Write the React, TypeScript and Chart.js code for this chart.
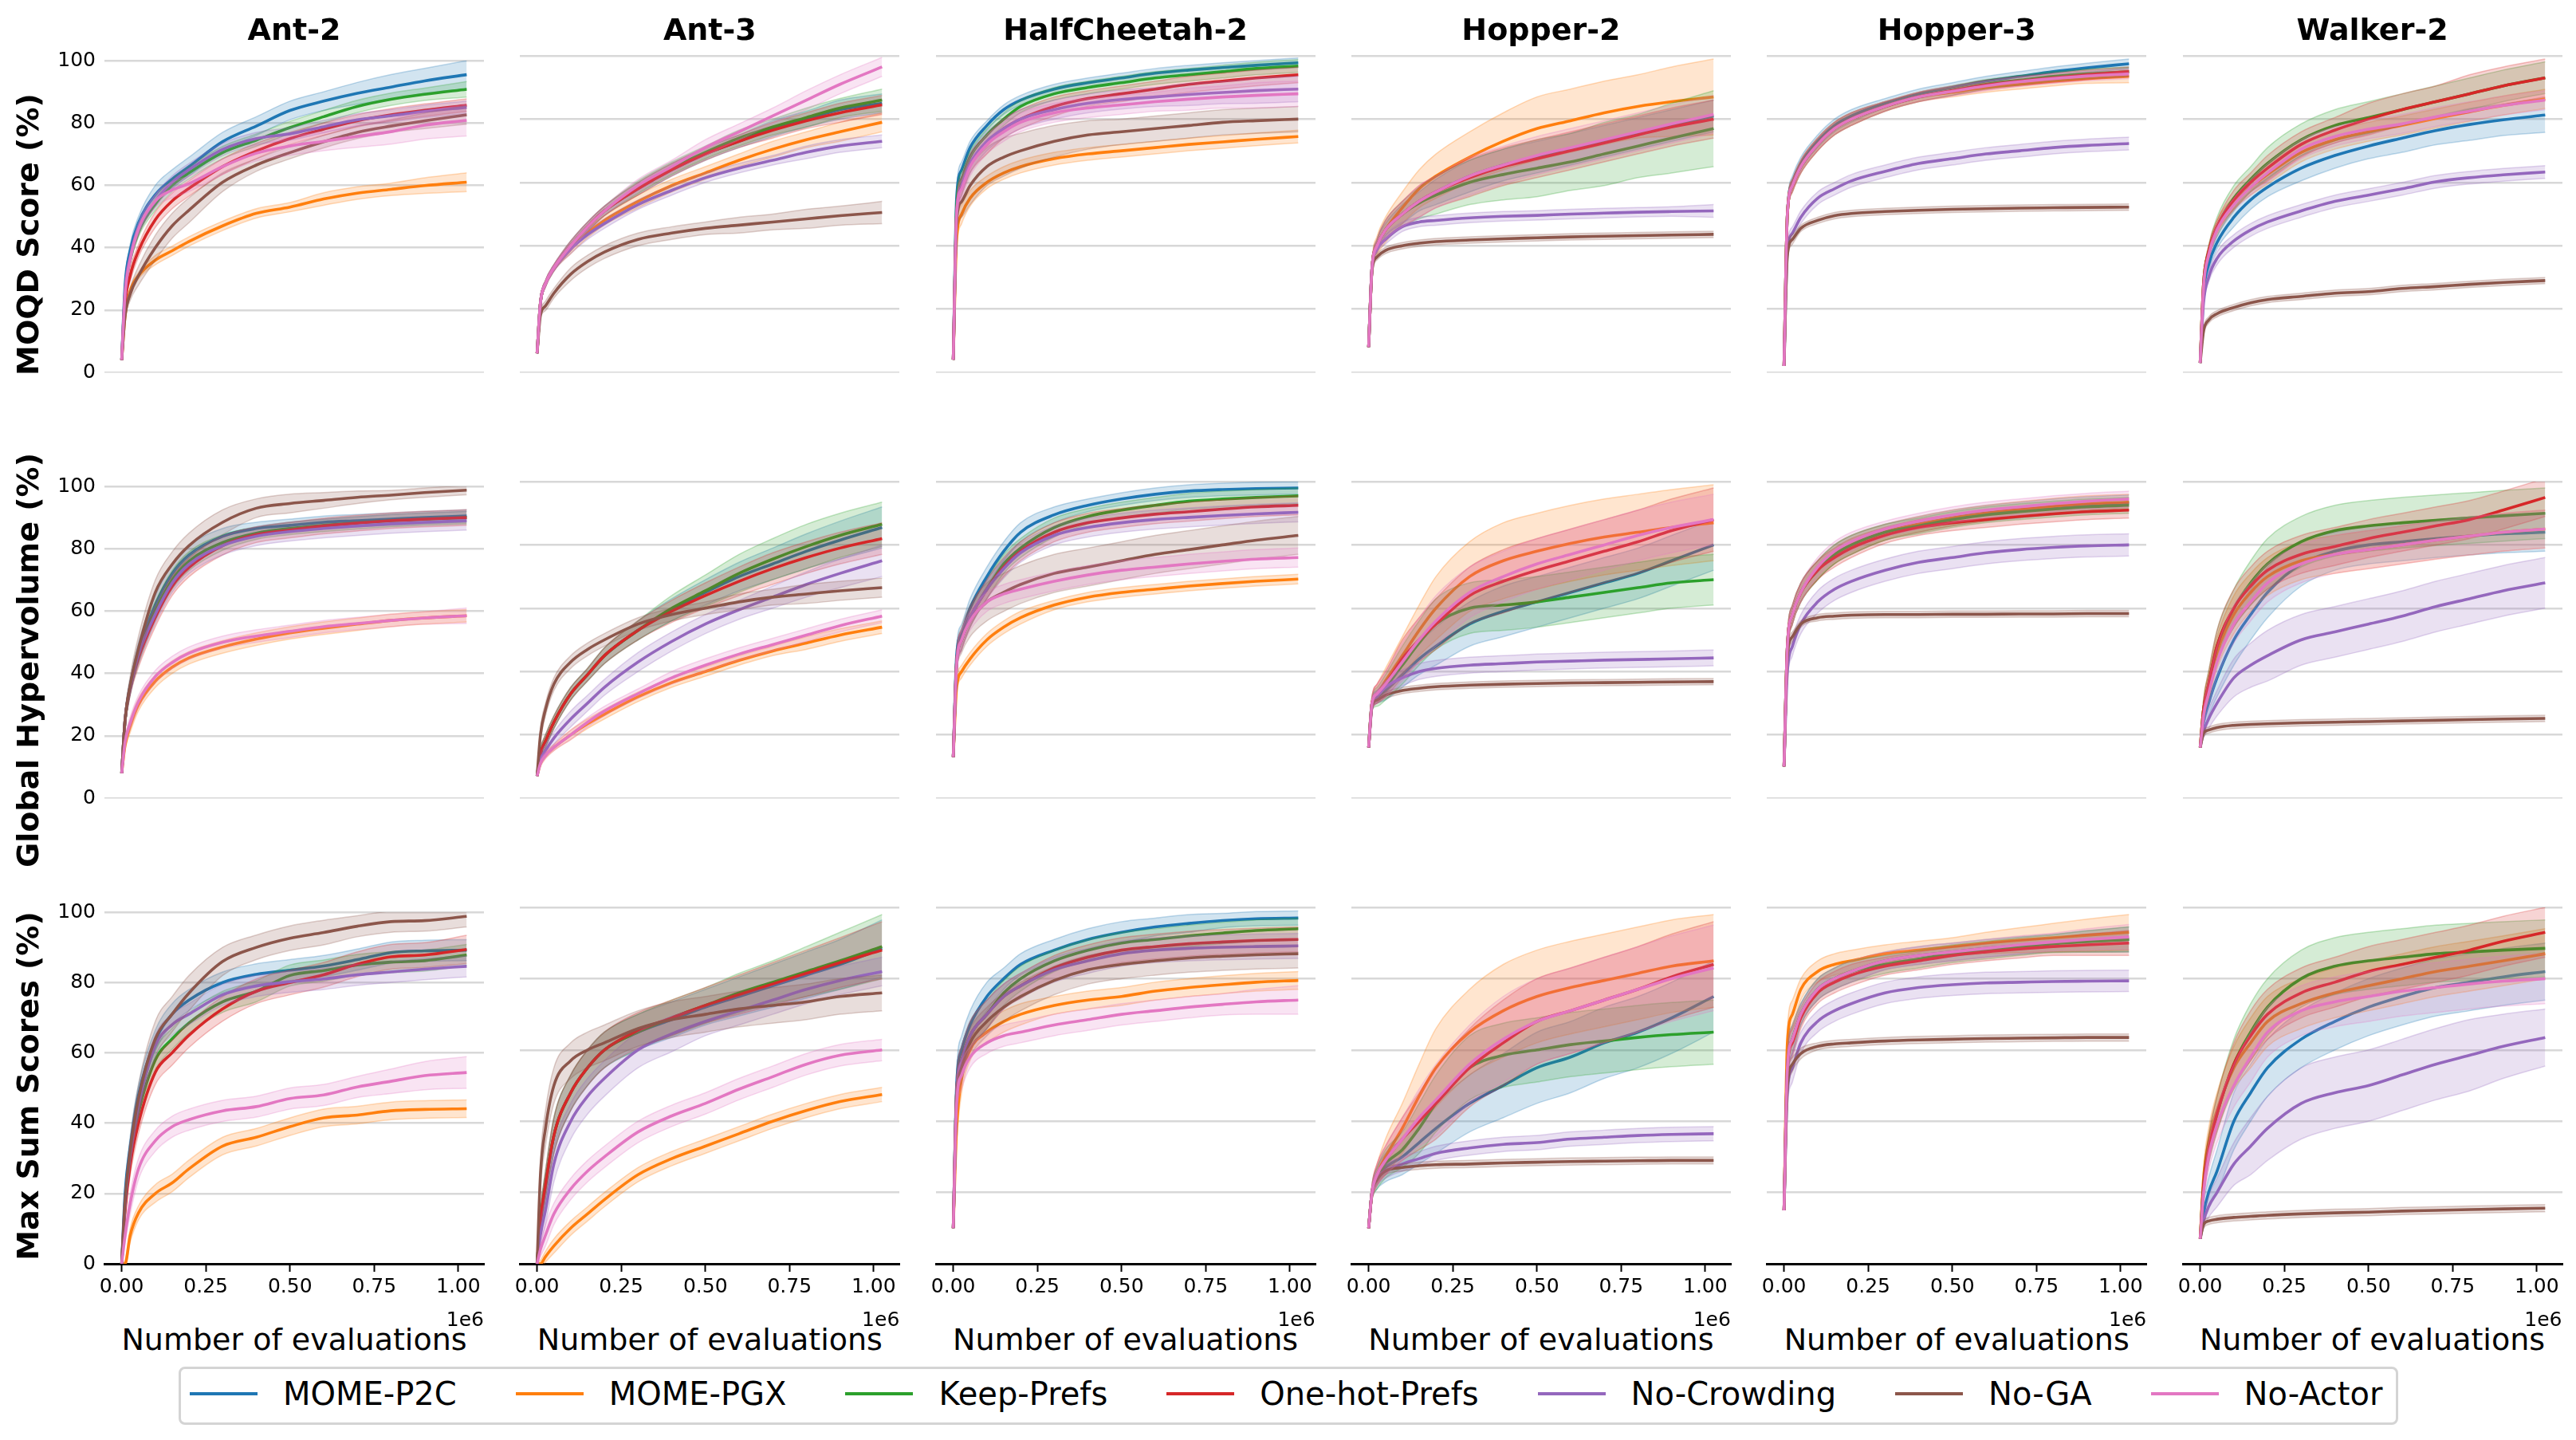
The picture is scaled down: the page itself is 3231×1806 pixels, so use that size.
import React, { useEffect, useRef } from "react";
import { Chart, registerables } from "chart.js";
Chart.register(...registerables);

// ---------- labels ----------
const SERIES = ["MOME-P2C", "MOME-PGX", "Keep-Prefs", "One-hot-Prefs", "No-Crowding", "No-GA", "No-Actor"];
const COLORS = ["#1f77b4", "#ff7f0e", "#2ca02c", "#d62728", "#9467bd", "#8c564b", "#e377c2"];
const TASKS = ["Ant-2", "Ant-3", "HalfCheetah-2", "Hopper-2", "Hopper-3", "Walker-2"];
const METRICS = ["MOQD Score (%)", "Global Hypervolume (%)", "Max Sum Scores (%)"];
const EVALS = [0, 10000, 25000, 50000, 100000, 150000, 200000, 300000, 400000, 500000, 600000, 700000, 800000, 900000, 1025000];
const X_TICKS = [0, 250000, 500000, 750000, 1000000];
const Y_TICKS = [0, 20, 40, 60, 80, 100];

// ---------- MOQD Score ----------
const moqdAnt2 = [
  [4, 28, 39, 48, 57, 62, 66, 74, 79, 84, 87, 89.5, 91.5, 93.5, 95.5],
  [4, 18, 26, 31, 36, 39, 42, 47, 51, 53, 55.6, 57.5, 58.7, 59.9, 61],
  [4, 25, 36, 45, 54, 60, 64, 70.5, 74.5, 78.5, 82, 85.3, 87.6, 89.2, 90.8],
  [4, 22, 31, 39, 49, 55, 59, 66, 71, 75, 78, 80.7, 82.6, 84.1, 85.7],
  [4, 26, 37, 46, 55, 61, 65, 71.5, 75, 76.5, 78.8, 81, 82.3, 83.7, 85],
  [4, 18, 25, 31, 40, 47, 52, 61, 66.5, 70.5, 74, 77, 79, 80.7, 82.6],
  [4, 25, 36, 46, 55, 58.5, 60.5, 66, 70.3, 72.6, 74.1, 75.7, 77.2, 79.3, 80.8],
];
const moqdAnt2Band = [
  [0, 1, 2, 2, 3, 3, 3, 3, 3, 3, 3, 3.5, 4, 4, 4.5],
  [0, 1, 1, 1, 1.5, 1.5, 1.5, 1.5, 1.5, 1.5, 2, 2, 2, 2.5, 3],
  [0, 1, 1.5, 1.5, 2, 2, 2, 2, 2, 2, 2, 2, 2, 2, 2.5],
  [0, 1, 2, 2, 2.5, 2.5, 2.5, 2.5, 2.5, 2, 2, 2, 2, 2, 2],
  [0, 1, 1.5, 1.5, 2, 2, 2, 2, 2, 2, 2, 2, 2, 2, 2],
  [0, 1, 2, 3, 4, 4, 4, 3, 2, 2, 2, 2, 2, 2.5, 3],
  [0, 1, 1.5, 2, 2, 2.5, 2.5, 2.5, 2.5, 3, 3, 3.5, 4, 4.5, 5],
];
const moqdAnt3 = [
  [6, 22, 28, 33, 40, 46, 51, 58, 64, 69, 73, 77, 80, 83, 85],
  [6, 22, 28, 33, 39, 44, 48, 54, 59, 63, 67, 70.5, 73.5, 76, 79],
  [6, 22, 28, 33, 40, 46, 51, 58.5, 64.5, 69.5, 74, 77.5, 80.5, 83.5, 86],
  [6, 22, 28, 33, 40, 46, 51, 58, 64, 69, 73, 76.5, 79.5, 82, 84.5],
  [6, 22, 28, 33, 39, 43.5, 47, 53, 57.5, 61.5, 64.5, 67, 69.5, 71.5, 73],
  [6, 18, 21, 25, 31, 35, 38, 42, 44, 45.5, 46.5, 47.5, 48.5, 49.5, 50.5],
  [6, 22, 28, 33, 40, 46, 51, 59, 65, 71, 76, 81, 86, 91, 96.5],
];
const moqdAnt3Band = [
  [0, 1, 1, 1, 1.5, 1.5, 1.5, 2, 2, 2, 2, 2.5, 2.5, 3, 3],
  [0, 1, 1, 1, 1.5, 1.5, 1.5, 2, 2, 2, 2, 2.5, 2.5, 3, 3],
  [0, 1, 1, 1, 1.5, 1.5, 1.5, 2, 2, 2, 2.5, 2.5, 3, 3, 3.5],
  [0, 1, 1, 1, 1.5, 1.5, 1.5, 2, 2, 2, 2, 2.5, 2.5, 3, 3],
  [0, 1, 1, 1, 1.5, 1.5, 1.5, 1.5, 1.5, 1.5, 1.5, 1.5, 2, 2, 2],
  [0, 1, 1.5, 1.5, 2, 2, 2, 2, 2, 2, 2.5, 2.5, 3, 3, 3.5],
  [0, 1, 1, 1, 1.5, 1.5, 1.5, 2, 2, 2.5, 2.5, 2.5, 3, 3, 3],
];
const moqdCheetah = [
  [4, 55, 64, 71, 78, 83, 86, 89.5, 91.5, 93, 94.5, 95.5, 96.3, 97, 97.8],
  [4, 42, 50, 55, 60, 63, 65, 67.5, 69, 70, 71, 72, 72.8, 73.6, 74.5],
  [4, 52, 61, 68, 75, 80, 84, 88, 90, 91.5, 93, 94, 95, 96, 96.8],
  [4, 50, 59, 66, 72, 77, 80, 84, 86.5, 88, 89.5, 91, 92, 93, 94],
  [4, 50, 59, 66, 73, 77, 80, 83, 85, 86.2, 87, 87.8, 88.4, 89, 89.5],
  [4, 48, 54, 59, 65, 68, 70, 73, 75, 76, 77, 78, 79, 79.5, 80],
  [4, 50, 58, 65, 72, 76, 79, 82, 83.5, 84.5, 85.5, 86.3, 87, 87.5, 88],
];
const moqdCheetahBand = [
  [0, 3, 2.5, 2, 1.5, 1.5, 1.5, 1.5, 1.5, 1.5, 1.5, 1.5, 1.5, 1.5, 1.5],
  [0, 3, 3, 2.5, 2, 2, 2, 2, 2, 2, 2, 2, 2, 2, 2],
  [0, 3, 2.5, 2, 2, 2, 2, 2, 2, 2, 2, 2, 2, 2, 2],
  [0, 3, 3, 3, 3, 3, 3, 3, 2.5, 2.5, 2.5, 2.5, 2.5, 2.5, 2.5],
  [0, 3, 3, 3, 3, 3, 3, 3, 3, 3, 3, 3.5, 3.5, 4, 4],
  [0, 4, 5, 6, 6, 6, 5.5, 5, 4.5, 4, 4, 4, 4, 4, 4],
  [0, 3, 3, 3, 3, 3, 3, 3, 3, 3, 3, 3.5, 3.5, 4, 4],
];
const moqdHopper2 = [
  [8, 33, 40, 45, 50, 54, 57, 62, 65.5, 68, 70.5, 73, 75.5, 78, 81],
  [8, 33, 40, 45, 52, 58, 62, 68, 73, 77, 79.5, 82, 84, 85.5, 87],
  [8, 33, 40, 45, 50, 53.5, 56, 60, 62.5, 64.5, 66.5, 69, 71.5, 74, 77],
  [8, 33, 40, 45, 50, 54, 57, 61.5, 65, 67.5, 70, 72.5, 75, 77.5, 80],
  [8, 33, 39, 42, 46, 47.5, 48, 48.8, 49.3, 49.6, 50, 50.3, 50.6, 50.8, 51],
  [8, 32, 36.5, 38.5, 40, 40.8, 41.3, 41.8, 42.2, 42.5, 42.8, 43, 43.2, 43.4, 43.6],
  [8, 33, 40, 45, 50, 54, 57, 62, 65.5, 68.5, 71, 73.5, 76, 78.5, 81.5],
];
const moqdHopper2Band = [
  [0, 1, 2, 2, 3, 3, 4, 5, 5, 5, 5, 5, 5, 5, 5],
  [0, 2, 3, 4, 5, 6, 7, 8, 9, 10, 10, 10, 10, 11, 12],
  [0, 1, 2, 3, 4, 5, 6, 7, 8, 9, 9, 10, 10, 11, 12],
  [0, 1, 2, 3, 4, 5, 5, 6, 6, 6, 6, 6, 6, 6, 6],
  [0, 1, 1, 1.5, 1.5, 1.5, 1.5, 1.5, 1.5, 1.5, 1.5, 1.5, 1.5, 1.5, 2],
  [0, 1, 1, 1, 1, 1, 1, 1, 1, 1, 1, 1, 1, 1, 1],
  [0, 1, 2, 3, 4, 5, 5, 6, 6, 6, 6, 6, 6, 6, 6],
];
const moqdHopper3 = [
  [2, 50, 60, 66, 73, 78, 81, 85, 88, 90, 92, 93.5, 95, 96.2, 97.5],
  [2, 50, 59, 65, 72, 77, 80, 84, 87, 88.5, 90, 91, 92, 92.8, 93.5],
  [2, 50, 59, 65, 72, 77, 80, 84, 87, 89, 91, 92.3, 93.5, 94.3, 95],
  [2, 50, 59, 65, 72, 77, 80, 84, 87, 89, 90.8, 92, 93, 94, 95],
  [2, 38, 44, 49, 55, 58, 60.5, 63.5, 66, 67.5, 69, 70, 71, 71.7, 72.3],
  [2, 37, 42, 45.5, 48, 49.5, 50.2, 50.8, 51.2, 51.5, 51.7, 51.9, 52, 52.1, 52.2],
  [2, 50, 59, 65, 72, 77, 80, 84, 87, 88.8, 90.5, 91.8, 92.8, 93.6, 94.3],
];
const moqdHopper3Band = [
  [0, 2, 2, 2, 2, 2, 2, 1.5, 1.5, 1.5, 1.5, 1.5, 1.5, 1.5, 1.5],
  [0, 2, 2, 2, 2, 2, 2, 1.5, 1.5, 1.5, 1.5, 1.5, 1.5, 1.5, 2],
  [0, 2, 2, 2, 2, 2, 2, 1.5, 1.5, 1.5, 1.5, 1.5, 1.5, 1.5, 1.5],
  [0, 2, 2, 2, 2, 2, 2, 1.5, 1.5, 1.5, 1.5, 1.5, 1.5, 1.5, 1.5],
  [0, 2, 2, 2, 2, 2, 2, 2, 2, 2, 2, 2, 2, 2, 2],
  [0, 2, 1.5, 1, 1, 1, 1, 1, 1, 1, 1, 1, 1, 1, 1],
  [0, 2, 2, 2, 2, 2, 2, 1.5, 1.5, 1.5, 1.5, 1.5, 1.5, 1.5, 1.5],
];
const moqdWalker = [
  [3, 25, 34, 41, 49, 54.5, 58.5, 64.5, 68.5, 71.5, 74, 76.4, 78.3, 79.8, 81.3],
  [3, 28, 38, 46, 53.5, 58.5, 62.5, 69.5, 73.5, 76, 78, 80.2, 82.3, 84.3, 86.4],
  [3, 28, 38, 46, 55, 61, 66, 73.5, 78, 80.5, 83, 85.5, 88, 90.5, 93.1],
  [3, 28, 38, 46, 54.5, 60, 64.5, 72, 76.5, 80, 83, 85.5, 88, 90.5, 93],
  [3, 22, 30, 36, 41.5, 45, 47.5, 51, 54, 56, 58, 60.2, 61.5, 62.4, 63.3],
  [3, 13, 16.5, 18.5, 20.5, 22, 23, 24, 25, 25.5, 26.5, 27.1, 27.8, 28.4, 29],
  [3, 27, 37, 45, 53, 58.5, 63, 70.5, 74.5, 76.8, 78.5, 80.7, 82.5, 84.3, 86],
];
const moqdWalkerBand = [
  [0, 1, 2, 2, 3, 3, 3, 4, 4, 4, 4.5, 4.5, 5, 5, 5.5],
  [0, 1, 1.5, 2, 2, 2.5, 3, 3, 3, 3, 3, 3, 3, 3, 3],
  [0, 1, 2, 3, 4, 4, 5, 5, 5, 5, 5, 5, 5, 5, 5],
  [0, 1, 2, 2, 3, 3, 4, 4, 4, 5, 5, 5, 6, 6, 6],
  [0, 1, 1.5, 2, 2, 2, 2, 2, 2, 2, 2, 2, 2, 2, 2],
  [0, 1, 1, 1, 1, 1, 1, 1, 1, 1, 1, 1, 1, 1, 1],
  [0, 1, 1.5, 2, 2, 2.5, 3, 3, 3, 3, 3, 3, 3, 3, 3],
];

// ---------- Global Hypervolume ----------
const ghAnt2 = [
  [8, 25, 36, 47, 62, 72, 78, 84, 86.5, 87.5, 88.5, 89, 89.5, 90, 90.5],
  [8, 17, 23, 30, 37.5, 42, 45, 48.5, 51, 53, 54.5, 55.8, 57, 57.8, 58.5],
  [8, 25, 35, 46, 60, 70, 76, 82, 85, 86.5, 87.5, 88.3, 89, 89.5, 90],
  [8, 25, 35, 45, 58, 68, 74, 81, 84.5, 86, 87.3, 88.2, 89, 89.5, 90],
  [8, 25, 35, 46, 59, 69, 75, 81, 84, 85.5, 86.5, 87.3, 88, 88.5, 89],
  [8, 25, 36, 48, 66, 75, 81, 88.5, 93, 94.5, 95.5, 96.5, 97.2, 98, 98.8],
  [8, 18, 24, 31, 39, 43.5, 46.5, 50, 52, 53.5, 55, 56, 57, 57.8, 58.5],
];
const ghAnt2Band = [
  [0, 2, 2, 3, 3, 3, 3, 2.5, 2, 2, 2, 2, 2, 2, 2],
  [0, 1.5, 2, 2, 2, 2, 2, 2, 2, 2, 2, 2, 2, 2, 2],
  [0, 2, 2, 3, 3, 3, 3, 2.5, 2, 2, 2, 2, 2, 2, 2],
  [0, 2, 2, 3, 3, 3, 3, 3, 2.5, 2.5, 2.5, 2.5, 2.5, 2.5, 2.5],
  [0, 2, 2, 3, 3, 3, 3, 3, 3, 3, 3, 3, 3, 3, 3],
  [0, 2, 3, 4, 4, 4, 4, 4, 3, 3, 2.5, 2, 1.5, 1.5, 1.5],
  [0, 1.5, 2, 2, 2, 2, 2, 2, 2, 2, 2, 2, 2, 2, 2.5],
];
const ghAnt3 = [
  [7, 14, 18, 24, 33, 39, 45, 53, 59.5, 65, 70, 74, 78, 81.5, 85.5],
  [7, 11, 13.5, 16, 20, 23.5, 26.5, 32, 36.5, 40, 43.5, 46.5, 49, 51.5, 54],
  [7, 14, 18, 24, 33, 39, 45, 53, 60, 65.5, 71, 75.5, 79.5, 83, 86.5],
  [7, 14, 18, 24, 33, 39, 45, 53, 59, 64, 68.5, 72.5, 76, 79, 82],
  [7, 12, 15, 19, 25, 30, 35, 43, 49.5, 55, 59.5, 63.5, 67.5, 71, 75],
  [7, 20, 28, 36, 43, 47, 50, 55, 58, 60, 62, 63.5, 64.5, 65.5, 66.5],
  [7, 11, 13.5, 16, 20, 24, 27.5, 33, 38, 42, 45.5, 48.5, 51.5, 54.5, 57.5],
];
const ghAnt3Band = [
  [0, 1.5, 2, 2, 2, 2, 2.5, 3, 3.5, 4, 4.5, 5, 5.5, 6, 6.5],
  [0, 1, 1, 1, 1.5, 1.5, 1.5, 1.5, 1.5, 1.5, 1.5, 1.5, 2, 2, 2],
  [0, 1.5, 2, 2, 2, 2, 2.5, 3, 4, 5, 6, 6.5, 7, 7, 7],
  [0, 1.5, 2, 2, 2, 2, 2.5, 3, 3.5, 4, 4.5, 5, 5, 5, 5],
  [0, 1.5, 2, 2, 2.5, 2.5, 2.5, 3, 3, 3, 3, 3.5, 4, 4.5, 5],
  [0, 2, 2, 2, 2, 2, 2, 2, 2, 2, 2.5, 2.5, 3, 3, 3],
  [0, 1, 1, 1, 1.5, 1.5, 1.5, 1.5, 2, 2, 2, 2, 2, 2, 2],
];
const ghCheetah = [
  [13, 45, 52, 60, 70, 78, 84, 89.5, 92.5, 94.5, 96, 97, 97.5, 97.8, 98],
  [13, 35, 40, 44, 50, 54, 57, 61, 63.5, 65, 66, 67, 67.8, 68.5, 69.2],
  [13, 43, 50, 57, 66, 74, 79, 85.5, 89, 91, 92.5, 93.8, 94.5, 95, 95.5],
  [13, 43, 50, 57, 66, 73, 78, 84, 87, 88.5, 89.7, 90.5, 91.3, 92, 92.5],
  [13, 43, 50, 57, 66, 72.5, 77.5, 83, 85.5, 87, 88, 88.7, 89.3, 89.8, 90.3],
  [13, 42, 50, 56, 62, 65, 67.5, 71, 73, 75, 77, 78.5, 80, 81.5, 83],
  [13, 42, 50, 56, 62, 64.5, 66, 68.5, 70.5, 72, 73, 74, 74.8, 75.5, 76],
];
const ghCheetahBand = [
  [0, 3, 3, 3, 3, 3, 3, 2.5, 2, 2, 2, 2, 2, 2, 2],
  [0, 2, 2, 2, 2, 2, 2, 1.5, 1.5, 1.5, 1.5, 1.5, 1.5, 1.5, 1.5],
  [0, 3, 3, 3, 3, 3, 3, 3, 2.5, 2.5, 2.5, 2.5, 2.5, 2.5, 2.5],
  [0, 3, 3, 3, 3, 3, 3, 3, 3, 3, 3, 3, 3, 3, 3],
  [0, 3, 3, 3, 3, 3, 3, 3, 3, 3, 3, 3, 3, 3, 3],
  [0, 3, 4, 5, 6, 6, 6, 6, 6, 6, 6, 6, 6, 6, 6],
  [0, 3, 3, 3, 3, 3, 3, 3, 3, 3, 3, 3, 3, 3, 3],
];
const ghHopper2 = [
  [16, 30, 32, 34, 39, 44, 48, 55, 59, 62, 65, 68, 71, 75, 80],
  [16, 30, 33, 37, 45, 53, 60, 70, 75, 78, 80.5, 82.5, 84, 85.5, 87],
  [16, 30, 32, 35, 42, 49, 55, 60, 61, 62, 63.5, 65, 66.5, 68, 69],
  [16, 30, 33, 36, 44, 50, 55, 64, 68.5, 72, 75, 78, 81, 84.5, 88],
  [16, 29, 32, 35, 38, 40, 41, 42, 42.5, 43, 43.3, 43.6, 43.8, 44, 44.3],
  [16, 29, 31, 32.5, 34, 34.7, 35.2, 35.7, 36, 36.2, 36.4, 36.5, 36.6, 36.7, 36.8],
  [16, 30, 33, 36, 43, 50, 56, 65, 70, 74, 77, 80, 83, 85.5, 88],
];
const ghHopper2Band = [
  [0, 2, 2, 3, 4, 5, 6, 7, 8, 8, 8, 8, 8, 8, 8],
  [0, 2, 3, 4, 6, 8, 10, 11, 12, 12, 12, 12, 12, 12, 12],
  [0, 2, 3, 4, 6, 7, 8, 8, 8, 8, 8, 8, 8, 8, 8],
  [0, 2, 3, 4, 6, 7, 8, 9, 10, 10, 10, 10, 10, 10, 10],
  [0, 1.5, 2, 2, 2.5, 2.5, 2.5, 2.5, 2.5, 2.5, 2.5, 2.5, 2.5, 2.5, 2.5],
  [0, 1, 1, 1, 1, 1, 1, 1, 1, 1, 1, 1, 1, 1, 1],
  [0, 2, 3, 4, 6, 7, 8, 8, 8, 8, 8, 8, 8, 8, 8],
];
const ghHopper3 = [
  [10, 48, 58, 65, 72, 77, 80, 84, 86.5, 88.5, 90, 91, 92, 92.7, 93.3],
  [10, 48, 58, 65, 72, 77, 80, 84, 86.5, 88.5, 90, 91.2, 92.2, 93, 93.5],
  [10, 48, 58, 65, 72, 77, 80, 84, 86, 88, 89.5, 90.5, 91.3, 92, 92.5],
  [10, 48, 58, 65, 72, 76, 79, 83, 85.5, 87, 88, 89, 89.8, 90.5, 91],
  [10, 40, 48, 55, 62, 66, 68.5, 72, 74.5, 76, 77.5, 78.5, 79.2, 79.7, 80],
  [10, 45, 51, 55, 57, 57.5, 57.8, 58, 58, 58.1, 58.1, 58.2, 58.2, 58.3, 58.3],
  [10, 48, 58, 65, 73, 78, 81, 85, 87.5, 89.5, 91, 92, 93, 93.8, 94.5],
];
const ghHopper3Band = [
  [0, 3, 3, 3, 3, 3, 3, 2.5, 2.5, 2.5, 2.5, 2.5, 2.5, 2.5, 2.5],
  [0, 3, 3, 3, 3, 3, 3, 2.5, 2.5, 2.5, 2.5, 2.5, 2.5, 2.5, 2.5],
  [0, 3, 3, 3, 3, 3, 3, 2.5, 2.5, 2.5, 2.5, 2.5, 2.5, 2.5, 2.5],
  [0, 3, 3, 3, 3, 3, 3, 2.5, 2.5, 2.5, 2.5, 2.5, 2.5, 2.5, 2.5],
  [0, 3, 3, 3, 3.5, 3.5, 3.5, 3.5, 3.5, 3.5, 3.5, 3.5, 3.5, 3.5, 3.5],
  [0, 2, 1.5, 1, 1, 1, 1, 1, 1, 1, 1, 1, 1, 1, 1],
  [0, 3, 3, 3, 3, 3, 3, 2.5, 2.5, 2.5, 2.5, 2.5, 2.5, 2.5, 2.5],
];
const ghWalker = [
  [16, 24, 30, 38, 50, 58, 65, 74, 78, 80, 81, 82, 82.8, 83.5, 84],
  [16, 28, 35, 46, 58, 65, 70, 75, 77, 78.5, 80, 81.5, 82.8, 84, 85],
  [16, 28, 36, 48, 60, 68, 74, 81, 84.5, 86, 87, 87.8, 88.5, 89.2, 90],
  [16, 28, 36, 48, 60, 67, 72, 77, 79.5, 82, 84, 86, 88, 91, 95],
  [16, 21, 25, 30, 38, 42, 45, 50, 52.5, 55, 57.5, 60.5, 63, 65.5, 68],
  [16, 20.5, 21.5, 22.3, 23, 23.3, 23.5, 23.8, 24, 24.2, 24.4, 24.6, 24.8, 25, 25.2],
  [16, 26, 33, 43, 55, 62, 68, 74, 77, 78.5, 80, 81.5, 82.8, 84, 85],
];
const ghWalkerBand = [
  [0, 3, 4, 6, 8, 8, 8, 7, 6, 6, 6, 6, 6, 6, 6],
  [0, 3, 4, 5, 6, 6, 6, 6, 6, 6, 6, 6, 6, 6, 6],
  [0, 3, 4, 5, 6, 7, 8, 8, 8, 8, 8, 8, 8, 8, 8],
  [0, 3, 4, 5, 6, 6, 6, 6, 6, 6, 6, 6, 6, 6, 6],
  [0, 2, 3, 4, 6, 7, 8, 8, 8, 8, 8, 8, 8, 8, 8],
  [0, 1, 1, 1, 1, 1, 1, 1, 1, 1, 1, 1, 1, 1, 1],
  [0, 3, 4, 5, 6, 6, 6, 6, 6, 6, 6, 6, 6, 6, 6],
];

// ---------- Max Sum Scores ----------
const msAnt2 = [
  [0, 20, 33, 48, 63.5, 71, 75, 80, 82.3, 83.5, 84.7, 86.5, 88.5, 89, 89.2],
  [0, 0, 8, 14.5, 20, 23, 27, 33.5, 36, 39, 41.5, 42.3, 43.5, 43.9, 44.1],
  [0, 16, 30, 43, 58, 64, 68.5, 74.5, 77.5, 82, 83.4, 85, 85.8, 86.2, 87.8],
  [0, 15, 28, 40, 54.5, 60, 65, 72.5, 77.5, 80, 82.2, 85.2, 87.3, 87.8, 89.4],
  [0, 17, 31, 45, 62, 68, 71, 76.5, 79, 80.2, 81, 82.2, 83, 83.8, 84.6],
  [0, 18, 32, 47, 64, 71, 77, 86, 90, 92.6, 94.2, 96, 97.3, 97.6, 98.8],
  [0, 8, 17, 27, 35, 39, 41, 43.5, 44.7, 47, 48, 50.3, 51.9, 53.5, 54.4],
];
const msAnt2Band = [
  [0, 2, 3, 3, 3, 3, 3, 3, 3, 3, 3, 3, 3, 3, 3],
  [0, 1, 2, 2, 2.5, 2.5, 2.5, 2.5, 2.5, 2.5, 2.5, 2.5, 2.5, 2.5, 2.5],
  [0, 2, 3, 3, 3, 3, 3, 3, 3, 3, 3, 3, 3, 3, 3],
  [0, 2, 3, 3, 3.5, 3.5, 3.5, 3.5, 3.5, 3.5, 3.5, 3.5, 3.5, 3.5, 4],
  [0, 2, 3, 3, 3, 3, 3, 3, 3, 3, 3, 3, 3, 3, 3],
  [0, 2, 3, 4, 5, 5, 5, 4, 3.5, 3.5, 3.5, 3, 3, 3, 3],
  [0, 2, 3, 3, 3, 3, 3, 3, 3, 3, 3, 3, 3.5, 4, 4.5],
];
const msAnt3 = [
  [0, 12, 22, 36, 48, 55, 60, 65, 68.5, 72, 75, 78, 81, 84, 88.5],
  [0, 0, 2, 5, 10, 14, 18, 25, 29.5, 33, 36.5, 40, 43, 45.5, 47.5],
  [0, 12, 22, 36, 48, 55, 60, 65, 69, 72.5, 76, 79, 82, 85, 89],
  [0, 12, 22, 36, 48, 55, 60, 65.5, 69, 72.5, 75.5, 78.5, 81.5, 84.5, 88],
  [0, 8, 15, 28, 40, 47, 52, 60, 64.5, 68, 71, 74, 77, 79.5, 82],
  [0, 25, 38, 50, 57, 60, 62, 66, 68.5, 70, 71.5, 72.5, 73.5, 75, 76],
  [0, 4, 8, 14, 21, 26, 30, 37, 41.5, 45, 49, 52.5, 56, 58.5, 60],
];
const msAnt3Band = [
  [0, 3, 4, 5, 5, 5, 5, 5, 5, 5, 5.5, 6, 6.5, 7, 8],
  [0, 1, 1.5, 2, 2, 2, 2, 2, 2, 2, 2, 2, 2, 2, 2],
  [0, 3, 4, 5, 5, 5, 5, 5, 5, 5, 5.5, 6, 7, 8, 9],
  [0, 3, 4, 5, 5, 5, 5, 5, 5, 5, 5.5, 6, 6.5, 7, 8],
  [0, 3, 4, 5, 5, 5, 5, 5, 5, 4, 4, 4, 4, 4, 4],
  [0, 4, 5, 5, 5, 5, 5, 5, 5, 5, 5, 5, 5, 5, 5],
  [0, 2, 3, 3, 3, 3, 3, 3, 3, 3, 3, 3, 3, 3, 3],
];
const msCheetah = [
  [10, 50, 60, 67, 75, 80, 84, 88, 91, 93, 94.5, 95.5, 96.3, 96.8, 97],
  [10, 38, 52, 60, 65, 68, 70, 72.5, 74, 75, 76.5, 77.5, 78.3, 79, 79.5],
  [10, 48, 57, 64, 70, 76, 80, 85, 88, 90, 91, 92, 92.8, 93.5, 94],
  [10, 48, 57, 64, 70, 75, 78, 83, 86, 88, 89, 89.8, 90.3, 90.7, 91],
  [10, 48, 57, 64, 70, 75, 78, 82.5, 85, 87, 88, 88.5, 88.8, 89, 89.2],
  [10, 46, 55, 62, 68, 72, 75, 79.5, 82.5, 84, 85, 85.8, 86.3, 86.7, 87],
  [10, 45, 53, 58, 62, 64, 65, 67, 68.5, 70, 71, 72, 72.8, 73.5, 74],
];
const msCheetahBand = [
  [0, 4, 4, 4, 4, 3, 3, 3, 3, 3, 2.5, 2.5, 2, 2, 2],
  [0, 4, 4, 3, 3, 3, 3, 2.5, 2.5, 2.5, 2.5, 2.5, 2.5, 2.5, 2.5],
  [0, 4, 4, 4, 4, 3.5, 3.5, 3, 3, 3, 3, 3, 3, 3, 3],
  [0, 4, 4, 4, 4, 3.5, 3.5, 3.5, 3.5, 3.5, 3.5, 3.5, 3.5, 3.5, 3.5],
  [0, 4, 4, 4, 4, 3.5, 3.5, 3.5, 3.5, 3.5, 3.5, 3.5, 3.5, 3.5, 3.5],
  [0, 4, 4, 4, 4, 4, 4, 4, 4, 4, 4, 4, 4, 4, 4],
  [0, 4, 4, 3, 3, 3, 3, 3, 3, 3, 3, 3, 3, 3.5, 4],
];
const msHopper2 = [
  [10, 20, 24, 27, 30, 34, 38, 45, 50, 55, 58, 62, 65, 69, 75],
  [10, 20, 25, 30, 38, 47, 55, 65, 71, 75, 77.5, 79.5, 81.5, 83.5, 85],
  [10, 20, 24, 28, 32, 38, 45, 55, 58.5, 60, 61.5, 62.5, 63.5, 64.3, 65],
  [10, 20, 25, 29, 35, 40, 45, 55, 62, 68, 71, 74, 77, 80.5, 84],
  [10, 20, 24, 26, 28, 29.5, 31, 32.5, 33.5, 34, 35, 35.5, 36, 36.3, 36.5],
  [10, 20, 23.5, 26, 27, 27.5, 27.8, 28, 28.3, 28.5, 28.7, 28.8, 28.9, 29, 29],
  [10, 20, 25, 29, 35, 41, 46, 56, 63, 68, 71, 74, 77, 80, 83],
];
const msHopper2Band = [
  [0, 2, 3, 4, 5, 6, 7, 8, 9, 10, 10, 10, 10, 10, 10],
  [0, 2, 3, 5, 7, 9, 11, 12, 13, 13, 13, 13, 13, 13, 13],
  [0, 2, 3, 4, 5, 7, 8, 9, 9, 9, 9, 9, 9, 9, 9],
  [0, 2, 3, 4, 6, 8, 10, 11, 12, 12, 12, 12, 12, 12, 12],
  [0, 1.5, 2, 2, 2, 2, 2, 2, 2, 2, 2, 2, 2, 2, 2],
  [0, 1, 1, 1, 1, 1, 1, 1, 1, 1, 1, 1, 1, 1, 1],
  [0, 2, 3, 4, 6, 8, 10, 11, 12, 12, 12, 12, 12, 12, 12],
];
const msHopper3 = [
  [15, 55, 63, 70, 77, 80, 82, 85, 86.5, 87.5, 88.5, 89.3, 90, 90.5, 91],
  [15, 62, 70, 77, 82, 84, 85, 87, 88, 89, 90, 90.8, 91.5, 92.2, 93],
  [15, 55, 63, 70, 77, 80, 82, 84, 85.5, 87, 88, 89, 89.8, 90.4, 91],
  [15, 55, 62, 69, 76, 79, 81, 83.5, 85, 86.5, 87.5, 88.3, 89, 89.5, 90],
  [15, 48, 55, 62, 68, 71, 73, 76, 77.5, 78.3, 78.8, 79, 79.2, 79.3, 79.4],
  [15, 50, 56, 59, 61, 61.7, 62, 62.5, 62.8, 63, 63.2, 63.3, 63.4, 63.5, 63.5],
  [15, 55, 63, 70, 77, 80, 82, 85, 86.5, 87.5, 88.5, 89.5, 90.3, 91, 91.7],
];
const msHopper3Band = [
  [0, 4, 4, 3, 3, 3, 3, 2.5, 2.5, 2.5, 2.5, 2.5, 2.5, 3, 3.5],
  [0, 4, 4, 3, 3, 3, 3, 2.5, 2.5, 2.5, 3, 3.5, 4, 4.5, 5],
  [0, 4, 4, 3, 3, 3, 3, 2.5, 2.5, 2.5, 2.5, 2.5, 2.5, 3, 3.5],
  [0, 4, 4, 3, 3, 3, 3, 2.5, 2.5, 2.5, 2.5, 2.5, 2.5, 3, 3.5],
  [0, 4, 4, 3, 3, 3, 3, 3, 3, 3, 3, 3, 3, 3, 3],
  [0, 3, 2, 1.5, 1, 1, 1, 1, 1, 1, 1, 1, 1, 1, 1],
  [0, 4, 4, 3, 3, 3, 3, 2.5, 2.5, 2.5, 2.5, 2.5, 2.5, 3, 3.5],
];
const msWalker = [
  [7, 14, 20, 26, 40, 48, 55, 63, 68, 72, 75, 77.5, 79, 80.5, 82],
  [7, 24, 34, 43, 55, 62, 68, 73, 76, 78, 80, 82, 83.5, 85, 87],
  [7, 22, 32, 42, 56, 65, 72, 80, 83.5, 85, 86, 87, 87.5, 88, 88.5],
  [7, 22, 32, 42, 56, 64, 70, 76, 79, 82, 84, 86, 88, 90.5, 93],
  [7, 12, 16, 20, 28, 33, 38, 45, 48, 50, 53, 56, 58.5, 61, 63.5],
  [7, 11, 12, 12.5, 13, 13.3, 13.6, 14, 14.3, 14.5, 14.8, 15, 15.2, 15.4, 15.6],
  [7, 20, 30, 39, 50, 58, 65, 71, 73.5, 75, 76.5, 77.5, 78.5, 79.3, 80],
];
const msWalkerBand = [
  [0, 3, 4, 6, 8, 8, 8, 8, 8, 8, 8, 8, 8, 8, 8],
  [0, 3, 4, 5, 6, 7, 7, 7, 7, 7, 7, 7, 7, 7, 7],
  [0, 3, 4, 5, 7, 8, 8, 8, 8, 8, 8, 8, 8, 8, 8],
  [0, 3, 4, 5, 6, 7, 7, 7, 7, 7, 7, 7, 7, 7, 7],
  [0, 2, 3, 4, 6, 8, 9, 10, 10, 10, 10, 10, 10, 9, 8],
  [0, 1, 1, 1, 1, 1, 1, 1, 1, 1, 1, 1, 1, 1, 1],
  [0, 3, 4, 5, 6, 7, 7, 7, 7, 7, 7, 7, 7, 7, 7],
];

const MEANS = [
  [moqdAnt2, moqdAnt3, moqdCheetah, moqdHopper2, moqdHopper3, moqdWalker],
  [ghAnt2, ghAnt3, ghCheetah, ghHopper2, ghHopper3, ghWalker],
  [msAnt2, msAnt3, msCheetah, msHopper2, msHopper3, msWalker],
];
const BANDS = [
  [moqdAnt2Band, moqdAnt3Band, moqdCheetahBand, moqdHopper2Band, moqdHopper3Band, moqdWalkerBand],
  [ghAnt2Band, ghAnt3Band, ghCheetahBand, ghHopper2Band, ghHopper3Band, ghWalkerBand],
  [msAnt2Band, msAnt3Band, msCheetahBand, msHopper2Band, msHopper3Band, msWalkerBand],
];

// ---------- layout ----------
const FONT = "'DejaVu Sans', 'Liberation Sans', sans-serif";
const PLOT_LEFT0 = 131;
const COL_STEP = 521.3;
const PLOT_W = 476;
const PLOT_H = 447;
const ROW_TOP = [70, 604, 1138];
const Y_AXIS_W = 100;
const PAD_L = 10;
const PAD_R = 20;
const PAD_T = 20;
const X_AXIS_H = 50;

function rgba(hex: string, a: number) {
  const n = parseInt(hex.slice(1), 16);
  return `rgba(${(n >> 16) & 255},${(n >> 8) & 255},${n & 255},${a})`;
}

function Panel({ row, col }: { row: number; col: number }) {
  const ref = useRef<HTMLCanvasElement>(null);
  const bottomRow = row === 2;
  const width = Y_AXIS_W + PAD_L + PLOT_W + PAD_R;
  const padB = bottomRow ? 10 : 20;
  const height = PAD_T + PLOT_H + (bottomRow ? X_AXIS_H : 0) + padB;
  const left = PLOT_LEFT0 + COL_STEP * col - Y_AXIS_W - PAD_L;
  const top = ROW_TOP[row] - PAD_T;

  useEffect(() => {
    const canvas = ref.current;
    if (!canvas) return;
    const means = MEANS[row][col];
    const bands = BANDS[row][col];
    const datasets: any[] = [];
    let order = 1000;
    means.forEach((m, i) => {
      const c = COLORS[i];
      const b = bands[i];
      const common = {
        pointRadius: 0,
        pointHoverRadius: 0,
        cubicInterpolationMode: "monotone",
        tension: 0.4,
      };
      datasets.push({
        ...common,
        label: SERIES[i] + " lo",
        data: m.map((v, k) => ({ x: EVALS[k], y: v - b[k] })),
        borderColor: rgba(c, 0.28),
        borderWidth: 1.5,
        fill: false,
        order: order--,
      });
      datasets.push({
        ...common,
        label: SERIES[i] + " hi",
        data: m.map((v, k) => ({ x: EVALS[k], y: v + b[k] })),
        borderColor: rgba(c, 0.28),
        borderWidth: 1.5,
        backgroundColor: rgba(c, 0.2),
        fill: "-1",
        order: order--,
      });
      datasets.push({
        ...common,
        label: SERIES[i],
        data: m.map((v, k) => ({ x: EVALS[k], y: v })),
        borderColor: c,
        borderWidth: 3.6,
        fill: false,
        order: order--,
      });
    });

    const chart = new Chart(canvas, {
      type: "line",
      data: { datasets },
      options: {
        animation: false,
        responsive: false,
        devicePixelRatio: 1,
        events: [],
        layout: { padding: { left: PAD_L, right: PAD_R, top: PAD_T, bottom: padB } },
        plugins: { legend: { display: false }, tooltip: { enabled: false }, title: { display: false } },
        scales: {
          x: {
            type: "linear",
            min: -51250,
            max: 1076250,
            display: bottomRow,
            afterBuildTicks: (ax: any) => {
              ax.ticks = X_TICKS.map((v) => ({ value: v }));
            },
            afterFit: (s: any) => {
              s.height = X_AXIS_H;
            },
            ticks: {
              callback: (v: any) => (Number(v) / 1e6).toFixed(2),
              font: { family: FONT, size: 25 },
              color: "#000",
              maxRotation: 0,
              minRotation: 0,
              autoSkip: false,
              padding: 4,
            },
            grid: {
              display: true,
              drawOnChartArea: false,
              drawTicks: true,
              tickLength: 10,
              tickWidth: 2,
              tickColor: "#000",
            },
            border: { display: true, color: "#000", width: 3 },
          },
          y: {
            type: "linear",
            min: 0,
            max: 100,
            afterBuildTicks: (ax: any) => {
              ax.ticks = Y_TICKS.map((v) => ({ value: v }));
            },
            afterFit: (s: any) => {
              s.width = Y_AXIS_W;
            },
            ticks: {
              display: col === 0,
              font: { family: FONT, size: 25 },
              color: "#000",
              padding: 11,
              callback: (v: any) => String(v),
            },
            grid: {
              drawTicks: false,
              color: (ctx: any) =>
                bottomRow && ctx.tick && ctx.tick.value === 0 ? "rgba(0,0,0,0)" : "#d8d8d8",
              lineWidth: (ctx: any) => (ctx.tick && ctx.tick.value === 0 ? 1.4 : 2.6),
            },
            border: { display: false },
          },
        },
      } as any,
    });
    return () => chart.destroy();
  }, [row, col]);

  return (
    <canvas
      ref={ref}
      width={width}
      height={height}
      style={{ position: "absolute", left, top, width, height }}
    />
  );
}

export default function App() {
  const panels: JSX.Element[] = [];
  for (let r = 0; r < 3; r++) for (let c = 0; c < 6; c++) panels.push(<Panel key={`${r}-${c}`} row={r} col={c} />);

  return (
    <div
      style={{
        position: "absolute",
        left: 0,
        top: 0,
        width: 3231,
        height: 1806,
        background: "#fff",
        fontFamily: FONT,
        color: "#000",
        overflow: "hidden",
      }}
    >
      {panels}
      {TASKS.map((t, c) => (
        <div
          key={t}
          style={{
            position: "absolute",
            left: PLOT_LEFT0 + COL_STEP * c,
            width: PLOT_W,
            top: 18,
            textAlign: "center",
            fontWeight: "bold",
            fontSize: 38,
            lineHeight: "38px",
            whiteSpace: "nowrap",
          }}
        >
          {t}
        </div>
      ))}
      {METRICS.map((m, r) => (
        <div
          key={m}
          style={{
            position: "absolute",
            left: 35 - 300,
            top: ROW_TOP[r] + PLOT_H / 2 - 19,
            width: 600,
            height: 38,
            textAlign: "center",
            fontWeight: "bold",
            fontSize: 38,
            lineHeight: "38px",
            whiteSpace: "nowrap",
            transform: "rotate(-90deg)",
          }}
        >
          {m}
        </div>
      ))}
      {TASKS.map((t, c) => (
        <div
          key={"xl" + t}
          style={{
            position: "absolute",
            left: PLOT_LEFT0 + COL_STEP * c,
            width: PLOT_W,
            top: 1661,
            textAlign: "center",
            fontSize: 38,
            lineHeight: "38px",
            whiteSpace: "nowrap",
          }}
        >
          Number of evaluations
        </div>
      ))}
      {TASKS.map((t, c) => (
        <div
          key={"oe" + t}
          style={{
            position: "absolute",
            left: PLOT_LEFT0 + COL_STEP * c,
            width: PLOT_W,
            top: 1642,
            textAlign: "right",
            fontSize: 25,
            lineHeight: "25px",
            whiteSpace: "nowrap",
          }}
        >
          1e6
        </div>
      ))}
      <div
        style={{
          position: "absolute",
          left: 224,
          top: 1714,
          width: 2784,
          height: 73,
          boxSizing: "border-box",
          border: "3px solid #d4d4d4",
          borderRadius: 8,
          display: "flex",
          alignItems: "center",
          paddingLeft: 11,
          paddingBottom: 5,
          gap: 74,
        }}
      >
        {SERIES.map((s, i) => (
          <div key={s} style={{ display: "flex", alignItems: "center", whiteSpace: "nowrap" }}>
            <span style={{ display: "inline-block", width: 85, height: 4, background: COLORS[i], marginRight: 32 }} />
            <span style={{ fontSize: 40, lineHeight: "40px" }}>{s}</span>
          </div>
        ))}
      </div>
    </div>
  );
}
